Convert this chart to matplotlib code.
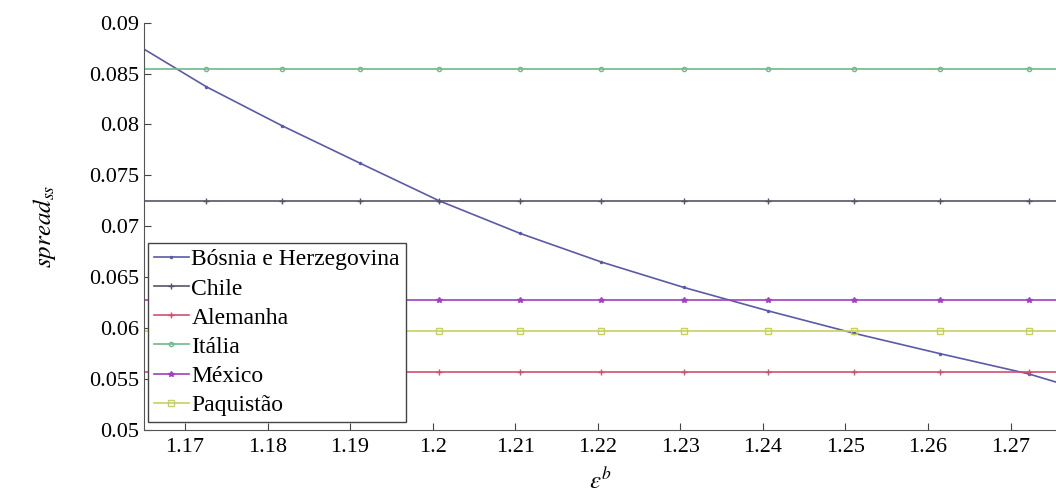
import numpy as np
import matplotlib
matplotlib.use("Agg")
import matplotlib.pyplot as plt

plt.rcParams['font.family'] = ['Liberation Serif', 'DejaVu Serif']
plt.rcParams['mathtext.fontset'] = 'stix'

# x positions (epsilon^b) where the curves were sampled / marked
x_min, x_max = 1.16504, 1.2755
x_marks = [1.1726, 1.1817, 1.1912, 1.2008, 1.2106, 1.2204,
           1.2304, 1.2406, 1.2510, 1.2614, 1.2722]

# Bosnia curve values: first at x_min, then at x_marks, last at x_max
bosnia = [0.0874, 0.0837, 0.0799, 0.0762, 0.0725, 0.0693, 0.0665,
          0.0640, 0.0617, 0.0595, 0.0575, 0.0555, 0.0547]

# constant levels of the other countries
chile = 0.07244
alemanha = 0.05572
italia = 0.08542
mexico = 0.06280
paquistao = 0.05971

x_all = [x_min] + x_marks + [x_max]
mk = slice(1, -1)

fig = plt.figure(figsize=(10.56, 5.04), dpi=100)
ax = fig.add_axes([0.1364, 0.147, 0.8636, 0.808])

ax.plot(x_all, bosnia, color='#5a5aa8', lw=1.2, marker='.', ms=3,
        markevery=mk, label='Bósnia e Herzegovina')
ax.plot(x_all, [chile]*len(x_all), color='#55556a', lw=1.2, marker='+', ms=4,
        markevery=mk, label='Chile')
ax.plot(x_all, [alemanha]*len(x_all), color='#d05070', lw=1.2, marker='+', ms=4,
        markevery=mk, label='Alemanha')
ax.plot(x_all, [italia]*len(x_all), color='#6fb88a', lw=1.2, marker='o', ms=3,
        mfc='none', markevery=mk, label='Itália')
ax.plot(x_all, [mexico]*len(x_all), color='#a040c0', lw=1.2, marker='*', ms=4,
        markevery=mk, label='México')
ax.plot(x_all, [paquistao]*len(x_all), color='#c8d060', lw=1.2, marker='s', ms=4,
        mfc='none', markevery=mk, label='Paquistão')

ax.set_xlim(x_min, x_max)
ax.set_ylim(0.05, 0.09)
ax.set_xticks([1.17, 1.18, 1.19, 1.2, 1.21, 1.22, 1.23, 1.24, 1.25, 1.26, 1.27])
ax.set_xticklabels(['1.17', '1.18', '1.19', '1.2', '1.21', '1.22', '1.23',
                    '1.24', '1.25', '1.26', '1.27'])
ax.set_yticks([0.05, 0.055, 0.06, 0.065, 0.07, 0.075, 0.08, 0.085, 0.09])
ax.set_yticklabels(['0.05', '0.055', '0.06', '0.065', '0.07', '0.075',
                    '0.08', '0.085', '0.09'])
ax.tick_params(direction='in', labelsize=16, length=5, color='#444444')
ax.tick_params(axis='x', pad=6)
ax.spines['top'].set_visible(False)
ax.spines['right'].set_visible(False)
for s in ('left', 'bottom'):
    ax.spines[s].set_color('#555555')

ax.set_xlabel(r'$\varepsilon^b$', fontsize=18, labelpad=8)
ax.set_ylabel(r'$spread_{ss}$', fontsize=18, labelpad=22)

leg = ax.legend(loc='lower left', bbox_to_anchor=(0.004, 0.02), fontsize=17,
                fancybox=False, edgecolor='#444444', framealpha=1,
                handlelength=1.5, handletextpad=0.1, borderpad=0.25,
                labelspacing=0.32, borderaxespad=0)
leg.get_frame().set_linewidth(1.0)

fig.savefig('out.png', dpi=100)
